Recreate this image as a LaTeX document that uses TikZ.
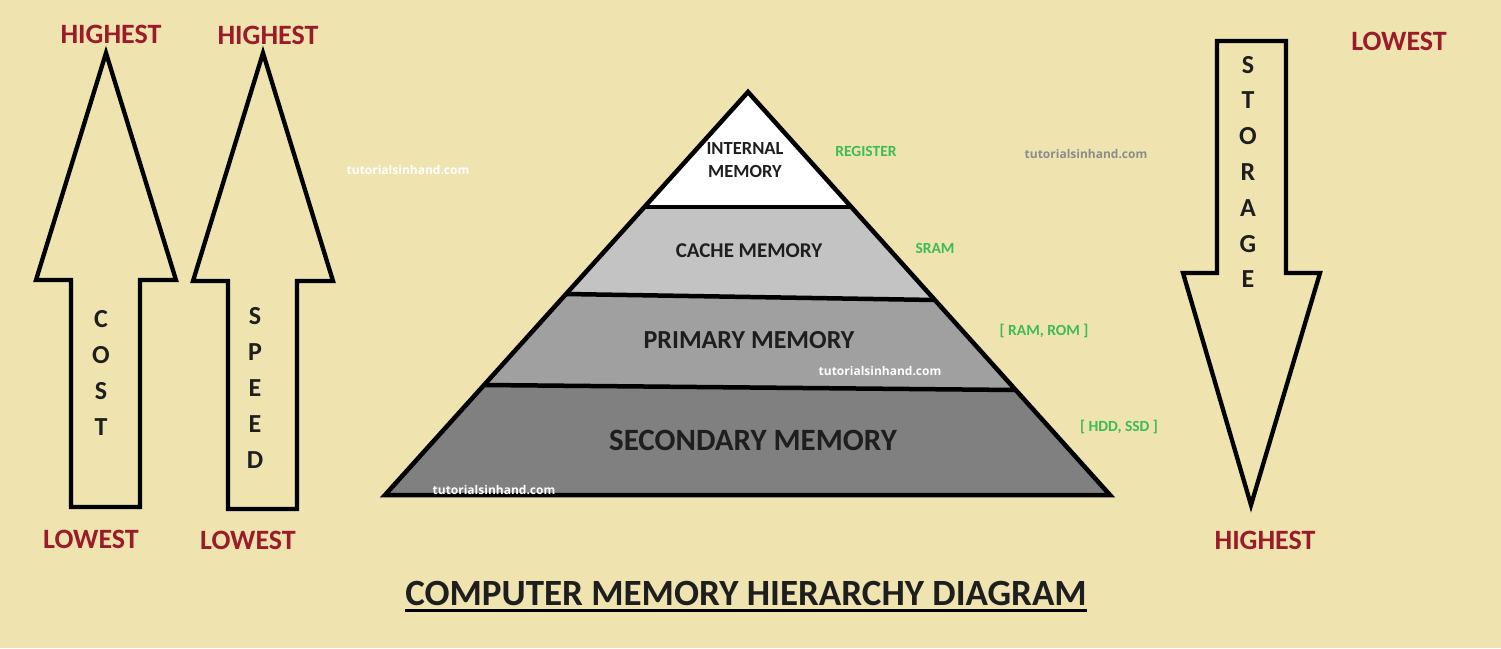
\documentclass[tikz,border=0pt]{standalone}
\usepackage{fontspec}
\setmainfont{Carlito}
\newfontfamily\wmfont{Open Sans}
\definecolor{bg}{HTML}{EFE3AF}
\definecolor{lblred}{HTML}{9A1B2A}
\definecolor{lblgreen}{HTML}{3DBB55}
\definecolor{wmgray}{HTML}{8C8C8C}
\definecolor{txtdark}{HTML}{1E1E1E}
\definecolor{bandA}{HTML}{FFFFFF}
\definecolor{bandB}{HTML}{C3C3C3}
\definecolor{bandC}{HTML}{A0A0A0}
\definecolor{bandD}{HTML}{808080}
\tikzset{
  arrowshape/.style={draw=black, line width=4.3pt, line join=miter},
  bandline/.style={draw=black, line width=4.5pt, line join=miter},
  redlbl/.style={inner sep=0pt, text=lblred, font=\fontsize{28}{30}\selectfont\bfseries},
  greenlbl/.style={inner sep=0pt, text=lblgreen, font=\fontsize{15.5}{17}\selectfont\bfseries},
  vertword/.style={inner sep=0pt, align=center, text=txtdark, font=\fontsize{26}{35.8}\selectfont\bfseries},
  bandtxt/.style={inner sep=0pt, align=center, text=txtdark},
  wmark/.style={inner sep=0pt, font=\fontsize{12}{13}\selectfont\wmfont\bfseries},
}
\begin{document}
\begin{tikzpicture}[x=1pt,y=-1pt]
\fill[bg] (0,0) rectangle (1501,648);
\useasboundingbox (0,0) rectangle (1501,648);

% ---- left arrows ----
\draw[arrowshape] (106,53) -- (176,280) -- (140,280) -- (140,507) -- (71,507) -- (71,280) -- (36,280) -- cycle;
\draw[arrowshape] (263,53) -- (333,281) -- (297,281) -- (297,509) -- (228,509) -- (228,281) -- (193,281) -- cycle;
% ---- right arrow ----
\draw[arrowshape] (1217,41) -- (1286,41) -- (1286,273) -- (1320,273) -- (1251,505) -- (1183,273) -- (1217,273) -- cycle;

\node[vertword] (cost) at (101,373) {C\\O\\S\\T};
\node[vertword] (speed) at (255,388) {S\\P\\E\\E\\D};
\node[vertword] (storage) at (1248,172) {S\\T\\O\\R\\A\\G\\E};

\node[redlbl] (costhigh) at (111,34) {HIGHEST};
\node[redlbl] (speedhigh) at (268,35) {HIGHEST};
\node[redlbl] (costlow) at (91,539) {LOWEST};
\node[redlbl] (speedlow) at (248,540) {LOWEST};
\node[redlbl] (storelow) at (1399,41) {LOWEST};
\node[redlbl] (storehigh) at (1265,540) {HIGHEST};

% ---- pyramid ----
\fill[bandA] (748,92) -- (851,207) -- (644,207) -- cycle;
\fill[bandB] (644,207) -- (851,207) -- (935,300) -- (566,294) -- cycle;
\fill[bandC] (566,294) -- (935,300) -- (1016,390) -- (485,385) -- cycle;
\fill[bandD] (485,385) -- (1016,390) -- (1110,495) -- (385,495) -- cycle;
\draw[bandline] (748,92) -- (1110,495) -- (385,495) -- cycle;
\draw[bandline] (644,207) -- (851,207);
\draw[bandline] (566,294) -- (935,300);
\draw[bandline] (485,385) -- (1016,390);

\node[bandtxt, font=\fontsize{18.5}{23}\selectfont\bfseries] (internal) at (745,160) {INTERNAL\\MEMORY};
\node[bandtxt, font=\fontsize{21}{23}\selectfont\bfseries] (cache) at (749,251) {CACHE MEMORY};
\node[bandtxt, font=\fontsize{26}{28}\selectfont\bfseries] (primary) at (749,340) {PRIMARY MEMORY};
\node[bandtxt, font=\fontsize{31}{33}\selectfont\bfseries] (secondary) at (753,440) {SECONDARY MEMORY};

\node[greenlbl] (register) at (866,151) {REGISTER};
\node[greenlbl] (sram) at (935,248) {SRAM};
\node[greenlbl] (ramrom) at (1044,331) {[ RAM, ROM ]};
\node[greenlbl] (hddssd) at (1119,427) {[ HDD, SSD ]};

% ---- watermarks ----
\node[wmark, text=white] (wm1) at (408,170) {tutorialsinhand.com};
\node[wmark, text=wmgray] (wm2) at (1086,154) {tutorialsinhand.com};
\node[wmark, text=white] (wm3) at (880,371) {tutorialsinhand.com};
\node[wmark, text=white] (wm4) at (494,490) {tutorialsinhand.com};

% ---- title ----
\node[inner sep=0pt, text=txtdark, font=\fontsize{37}{40}\selectfont\bfseries] (title) at (746,593) {COMPUTER MEMORY HIERARCHY DIAGRAM};
\draw[line width=2.5pt] ([yshift=-5pt]title.south west) -- ([yshift=-5pt]title.south east);
\end{tikzpicture}
\end{document}
